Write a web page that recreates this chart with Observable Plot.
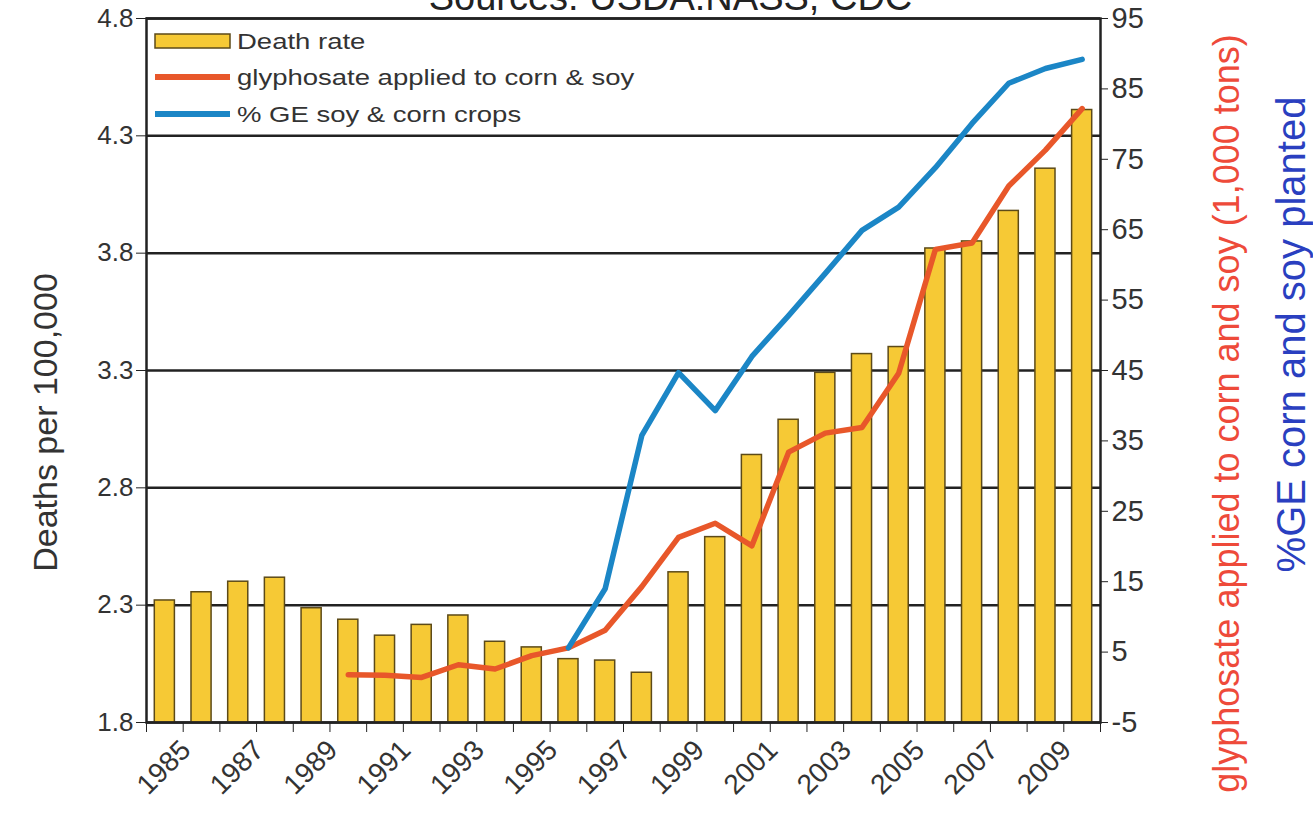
<!DOCTYPE html>
<html><head><meta charset="utf-8">
<script src="https://cdn.jsdelivr.net/npm/d3@7"></script>
<script src="https://cdn.jsdelivr.net/npm/@observablehq/plot@0.6"></script>
<style>body{margin:0;background:#fff;} #chart svg{display:block;}</style>
</head><body><div id="chart"></div>
<script>
// ---- data ----
const years = [1985,1986,1987,1988,1989,1990,1991,1992,1993,1994,1995,1996,1997,1998,1999,2000,2001,2002,2003,2004,2005,2006,2007,2008,2009,2010];
const deathRate = [2.32,2.355,2.40,2.417,2.287,2.238,2.17,2.216,2.256,2.144,2.12,2.07,2.064,2.012,2.44,2.59,2.94,3.09,3.29,3.37,3.40,3.82,3.85,3.98,4.16,4.41];
const glyphYears = [1990,1991,1992,1993,1994,1995,1996,1997,1998,1999,2000,2001,2002,2003,2004,2005,2006,2007,2008,2009,2010];
const glyphosate = [1.8,1.7,1.4,3.2,2.6,4.5,5.6,8.1,14.3,21.3,23.3,20.1,33.4,36.1,36.9,44.6,62.2,63.1,71.2,76.3,82.2];
const geYears = [1996,1997,1998,1999,2000,2001,2002,2003,2004,2005,2006,2007,2008,2009,2010];
const gePercent = [5.6,14.0,35.8,44.7,39.3,47.0,52.8,58.8,64.9,68.2,73.8,80.1,85.8,87.9,89.2];
const leftTicks = [1.8,2.3,2.8,3.3,3.8,4.3,4.8];
const rightTicks = [-5,5,15,25,35,45,55,65,75,85,95];
const xLabelYears = [1985,1987,1989,1991,1993,1995,1997,1999,2001,2003,2005,2007,2009];
const legendLabels = ["Death rate","glyphosate applied to corn & soy","% GE soy & corn crops"];
const titleText = "Sources: USDA:NASS; CDC";
const yTitleLeft = "Deaths per 100,000";
const yTitleRed = "glyphosate applied to corn and soy (1,000 tons)";
const yTitleBlue = "%GE corn and soy planted";

// ---- helpers ----
const rMin = -5, rMax = 95, lMin = 1.8, lMax = 4.8;
const toLeft = v => lMin + (v - rMin) * (lMax - lMin) / (rMax - rMin);
const toRight = y => Math.round(rMin + (y - lMin) * (rMax - rMin) / (lMax - lMin));

const rateData = years.map((year, i) => ({year, rate: deathRate[i]}));
const glyphData = glyphYears.map((year, i) => ({year, v: glyphosate[i]}));
const geData = geYears.map((year, i) => ({year, v: gePercent[i]}));
const boundaries = years.map(y => y - 0.5).concat([years[years.length-1] + 0.5]);

const FONT = "'Liberation Sans', Arial, sans-serif";
const INK = "#222";
const BAR = "#f6c935", BAR_STROKE = "#5c4a18";
const RED = "#e8572a", BLUE = "#1b86c6";

const chart = Plot.plot({
  width: 1313,
  height: 832,
  marginLeft: 146,
  marginRight: 213,
  marginTop: 18,
  marginBottom: 110,
  style: {fontFamily: FONT, color: INK, background: "#fff", overflow: "visible"},
  x: {type: "linear", domain: [years[0] - 0.5, years[years.length-1] + 0.5], axis: null},
  y: {domain: [lMin, lMax], axis: null},
  marks: [
    Plot.ruleY(leftTicks, {stroke: INK, strokeWidth: 2.5}),
    Plot.rect(rateData, {x1: d => d.year - 0.5, x2: d => d.year + 0.5, y1: () => lMin, y2: "rate",
      insetLeft: 8.3, insetRight: 8.3, fill: BAR, stroke: BAR_STROKE, strokeWidth: 1.5}),
    Plot.line(glyphData, {x: "year", y: d => toLeft(d.v), stroke: RED, strokeWidth: 5.5, strokeLinejoin: "round"}),
    Plot.line(geData, {x: "year", y: d => toLeft(d.v), stroke: BLUE, strokeWidth: 5.5, strokeLinejoin: "round"}),
    Plot.frame({stroke: INK, strokeWidth: 2.5}),
    Plot.axisY(leftTicks, {anchor: "left", tickSize: 10, tickPadding: 3, fontSize: 26, stroke: INK, fill: "#333",
      tickFormat: d => d.toFixed(1), label: null}),
    Plot.axisY(rightTicks.map(toLeft), {anchor: "right", tickSize: 7, tickPadding: 4, fontSize: 29, stroke: INK, fill: "#333",
      tickFormat: toRight, label: null}),
    Plot.axisX(boundaries, {anchor: "bottom", tickSize: 10, stroke: INK, tickFormat: () => "", label: null}),
    Plot.text(xLabelYears, {x: d => d, text: d => String(d), frameAnchor: "bottom", rotate: -45, textAnchor: "end", lineAnchor: "middle",
      dx: 21, dy: 23, fontSize: 28, fill: "#333"}),
    Plot.text([titleText], {frameAnchor: "top", textAnchor: "middle", dx: 47, dy: -9, lineAnchor: "bottom", fontSize: 38, fill: "#222"}),
    Plot.text([yTitleLeft], {frameAnchor: "left", textAnchor: "middle", rotate: -90, dx: -100, dy: 52, fontSize: 34, fill: "#333"}),
    Plot.text([yTitleRed], {frameAnchor: "right", textAnchor: "middle", rotate: -90, dx: 127, dy: 43, fontSize: 36, fill: "#ee4a3a"}),
    Plot.text([yTitleBlue], {frameAnchor: "right", textAnchor: "middle", rotate: -90, dx: 192, dy: -36, fontSize: 40, fill: "#2a3fc0"})
  ]
});

// ---- legend (layout decoration inside the frame) ----
const svg = d3.select(chart);
const lg = svg.append("g").attr("font-family", FONT).attr("font-size", 22).attr("fill", "#333").attr("text-anchor", "start");
const lx = 155, lw = 75, textX = 237;
const rowsY = [41, 77, 114];
lg.append("rect").attr("x", lx).attr("y", rowsY[0] - 7).attr("width", lw).attr("height", 14)
  .attr("fill", BAR).attr("stroke", BAR_STROKE).attr("stroke-width", 1.5);
lg.append("line").attr("x1", lx).attr("x2", lx + lw).attr("y1", rowsY[1]).attr("y2", rowsY[1])
  .attr("stroke", RED).attr("stroke-width", 6);
lg.append("line").attr("x1", lx).attr("x2", lx + lw).attr("y1", rowsY[2]).attr("y2", rowsY[2])
  .attr("stroke", BLUE).attr("stroke-width", 6);
legendLabels.forEach((t, i) => {
  lg.append("text").attr("transform", `translate(${textX},${rowsY[i]}) scale(1.25,1)`)
    .attr("dy", "0.35em").attr("text-anchor", "start").text(t);
});

document.getElementById("chart").appendChild(chart);
</script>
</body></html>
